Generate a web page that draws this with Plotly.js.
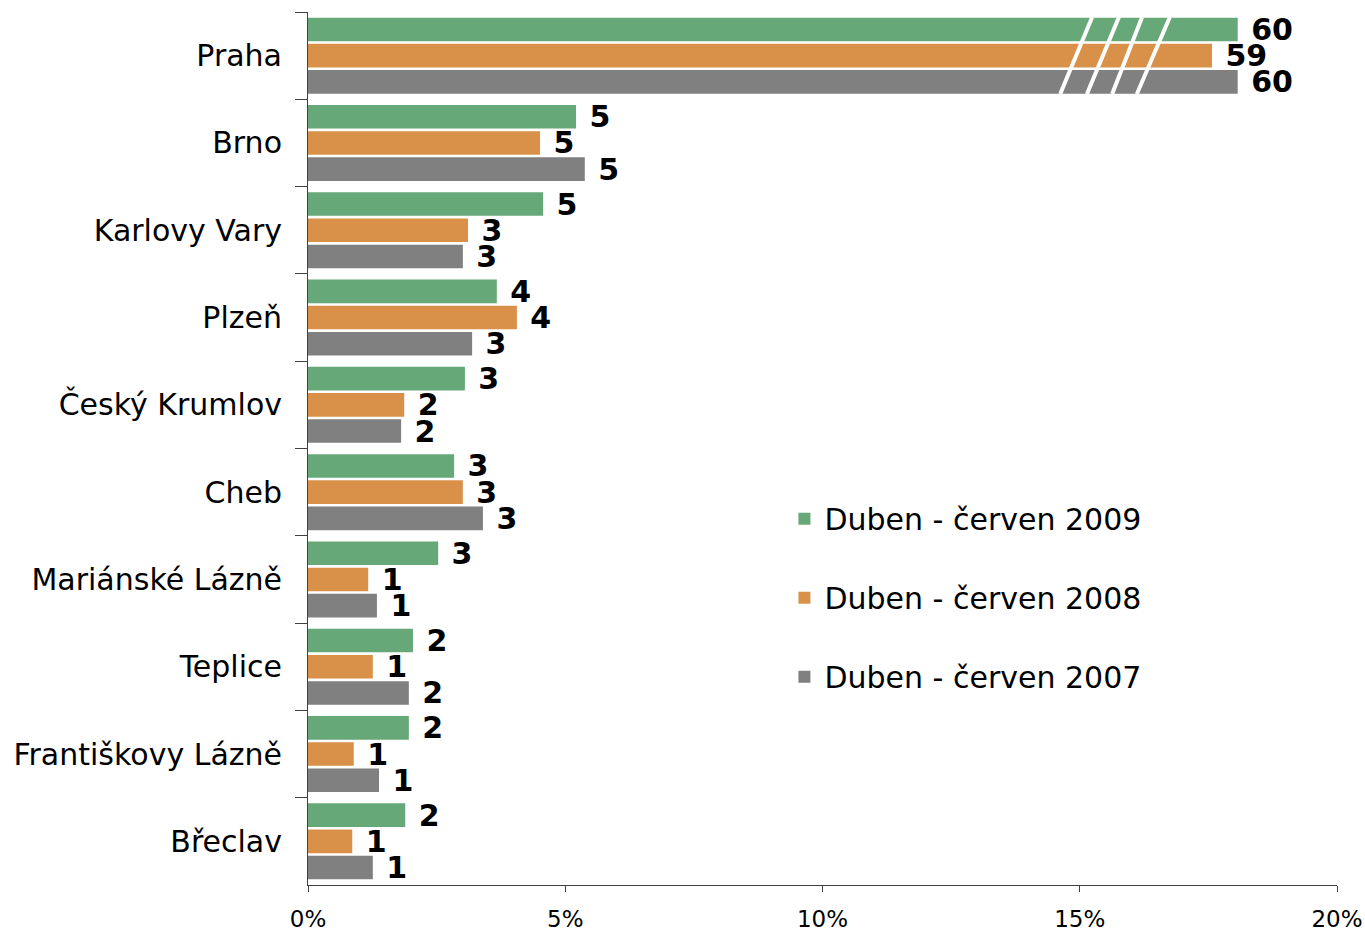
<!DOCTYPE html>
<html>
<head>
<meta charset="utf-8">
<script src="https://cdn.plot.ly/plotly-3.0.1.min.js"></script>
<style>
  body { margin: 0; background: #fff; }
  #chart { width: 1365px; height: 932px; }
</style>
</head>
<body>
<div id="chart"></div>
<script>
// Podíl měst (%) podle období
const cities = ["Praha", "Brno", "Karlovy Vary", "Plzeň", "Český Krumlov", "Cheb",
    "Mariánské Lázně", "Teplice", "Františkovy Lázně", "Břeclav"];
const v2009 = [60, 5.21, 4.57, 3.67, 3.05, 2.84, 2.53, 2.04, 1.96, 1.89];
const v2008 = [59, 4.51, 3.11, 4.06, 1.87, 3.01, 1.17, 1.26, 0.89, 0.86];
const v2007 = [60, 5.38, 3.01, 3.19, 1.81, 3.40, 1.34, 1.96, 1.38, 1.26];
const seriesNames = ["Duben - červen 2009", "Duben - červen 2008", "Duben - červen 2007"];
const colors = ["#66a877", "#d9914a", "#808080"];

// Praha is far off the scale: the bars are cut (broken axis)
const prahaDrawn = [18.07, 17.57, 18.07];

const font = "DejaVu Sans, Verdana, sans-serif";

const data = [v2009, v2008, v2007].map(function (vals, k) {
    const shown = vals.map(function (v, i) { return i === 0 ? prahaDrawn[k] : v; });
    return {
        type: 'bar',
        orientation: 'h',
        name: seriesNames[k],
        y: cities,
        x: shown,
        text: vals.map(function (v) { return '\u00a0' + Math.round(v); }),
        textposition: 'outside',
        constraintext: 'none',
        cliponaxis: false,
        textfont: { family: font, size: 30, color: '#000', weight: 'bold' },
        marker: { color: colors[k] },
        legendgroup: 'g' + k,
        hoverinfo: 'skip'
    };
});

// white slashes marking the break on the Praha bars
const breaks = [[14.62, 15.24], [15.14, 15.76], [15.63, 16.21], [16.11, 16.75]];
const shapes = breaks.map(function (b) {
    return {
        type: 'line', xref: 'x', yref: 'y',
        x0: b[0], y0: 0.44, x1: b[1], y1: -0.44,
        line: { color: '#fff', width: 4 }
    };
});

const layout = {
    width: 1365,
    height: 932,
    margin: { l: 308, r: 28, t: 12, b: 47 },
    paper_bgcolor: '#fff',
    plot_bgcolor: '#fff',
    barmode: 'group',
    bargap: 0.1,
    bargroupgap: 0.1,
    font: { family: font, color: '#000' },
    showlegend: true,
    legend: {
        x: 0.463, xanchor: 'left',
        y: 0.329, yanchor: 'middle',
        font: { family: font, size: 30, color: '#000' },
        tracegroupgap: 37,
        bgcolor: 'rgba(0,0,0,0)'
    },
    xaxis: {
        range: [0, 20],
        dtick: 5,
        ticksuffix: '%',
        showgrid: false,
        zeroline: false,
        showline: true,
        linecolor: '#404040',
        linewidth: 1,
        ticks: 'outside',
        ticklen: 6,
        tickcolor: '#404040',
        ticklabelstandoff: 7,
        tickfont: { family: font, size: 23, color: '#000' }
    },
    yaxis: {
        autorange: 'reversed',
        type: 'category',
        tickson: 'boundaries',
        ticks: 'outside',
        ticklen: 12,
        tickcolor: '#404040',
        showline: true,
        linecolor: '#404040',
        linewidth: 1,
        showgrid: false,
        zeroline: false,
        ticklabelstandoff: 19,
        tickfont: { family: font, size: 30, color: '#000' }
    },
    shapes: shapes
};

Plotly.newPlot('chart', data, layout, { displayModeBar: false, responsive: false });
</script>
</body>
</html>
